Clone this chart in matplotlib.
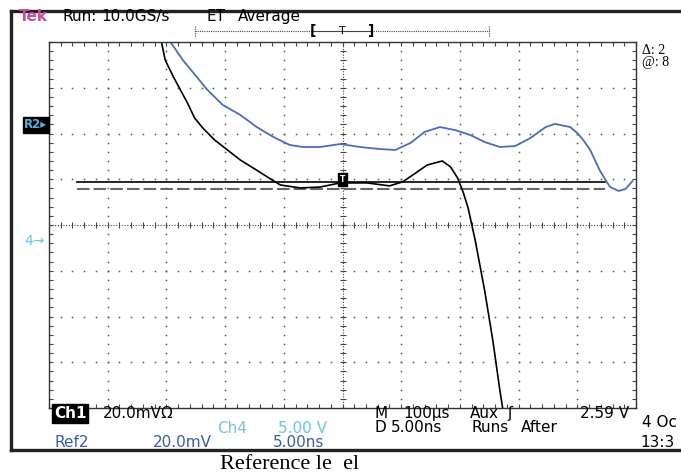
import matplotlib
matplotlib.use("Agg")
import matplotlib.pyplot as plt
from matplotlib.lines import Line2D
import numpy as np

# screen: 10 divisions x 5 ns, 8 divisions x 20 mV
ns_per_div = 5.0
mv_per_div = 20.0

# Ch1 trace (black)
ch1_t = [9.5, 9.9, 10.6, 11.2, 11.8, 12.4, 13.1, 14.1, 15.2, 16.3, 17.4, 18.6, 19.7,
         21.4, 23.1, 24.8, 27.1, 29.0, 30.1, 31.0, 32.2, 33.5, 34.2, 34.8, 35.3, 35.7,
         36.3, 37.1, 37.8, 38.4, 38.8]
ch1_mv = [81.8, 72.1, 64.7, 59.0, 53.3, 46.8, 42.4, 37.2, 32.8, 28.4, 24.9, 21.0, 17.5,
          16.2, 16.6, 18.4, 18.4, 17.1, 18.8, 21.9, 26.2, 28.0, 25.4, 20.6, 14.0, 7.4,
          -6.6, -28.4, -50.3, -72.1, -85.2]

# Ref2 trace (blue)
ref2_t = [10.1, 11.4, 12.3, 13.5, 14.8, 16.3, 17.7, 19.1, 20.5, 21.6, 23.1, 24.8, 26.5,
          28.2, 29.5, 30.8, 32.0, 33.3, 34.6, 35.9, 37.1, 38.4, 39.7, 41.0, 42.3, 43.1,
          44.4, 45.0, 45.5, 46.1, 46.5, 46.9, 47.4, 47.8, 48.5, 49.1, 49.7]
ref2_mv = [81.8, 72.1, 66.5, 59.0, 52.5, 48.1, 42.8, 38.5, 35.0, 34.1, 34.1, 35.4, 34.1,
           33.2, 32.8, 35.9, 40.7, 42.8, 41.5, 39.3, 36.3, 34.1, 34.5, 38.0, 42.8, 44.2,
           42.8, 40.2, 37.2, 32.8, 28.4, 24.0, 19.7, 16.6, 14.9, 15.7, 19.2]

# cursors and trigger
cursor_t = [2.4, 47.4]
cursor_a_mv = 18.8
cursor_b_mv = 15.7
trig_t, trig_mv = 25.0, 20.0

W, H = 681, 475


def fx(px):
    return px / W


def fy(py):
    return 1 - py / H


fig = plt.figure(figsize=(W / 100, H / 100), dpi=100)
fig.patch.set_facecolor("white")

ax = fig.add_axes([fx(49), fy(408), (636 - 49) / W, (408 - 42) / H])
ax.set_xlim(0, 10 * ns_per_div)
ax.set_ylim(-4 * mv_per_div, 4 * mv_per_div)
for s in ax.spines.values():
    s.set_color("#333333")
    s.set_linewidth(1.0)
ax.set_xticks(np.arange(0, 50.1, ns_per_div))
ax.set_yticks(np.arange(-80, 80.1, mv_per_div))
ax.set_xticks(np.arange(0, 50.1, ns_per_div / 5), minor=True)
ax.set_yticks(np.arange(-80, 80.1, mv_per_div / 5), minor=True)
ax.tick_params(which="both", direction="in", length=3, width=0.8, color="#444444",
               top=True, right=True, labelbottom=False, labelleft=False)

# graticule dots
gc = "#555555"
minor_t = np.arange(0, 50.1, 1.0)
minor_v = np.arange(-80, 80.1, 4.0)
for k in range(1, 10):
    if k == 5:
        continue
    t = k * ns_per_div
    ax.plot([t] * len(minor_v), minor_v, ls="none", marker="s", ms=1.1, color=gc, mec="none")
for k in range(-3, 4):
    if k == 0:
        continue
    v = k * mv_per_div
    ax.plot(minor_t, [v] * len(minor_t), ls="none", marker="s", ms=1.1, color=gc, mec="none")

# centre crosshair
ax.axhline(0, color="#444444", lw=0.8, ls=(0, (1, 1.5)))
ax.axvline(25, color="#444444", lw=0.8, ls=(0, (1, 1.5)))
ax.plot(minor_t, [0] * len(minor_t), ls="none", marker="|", ms=5, mew=0.8, color="#444444")
ax.plot([25] * len(minor_v), minor_v, ls="none", marker="_", ms=5, mew=0.8, color="#444444")

# cursors
ax.plot(cursor_t, [cursor_a_mv] * 2, color="black", lw=1.2)
ax.plot(cursor_t, [cursor_b_mv] * 2, color="#666666", lw=1.5, dashes=[6, 2])

# traces
ax.plot(ref2_t, ref2_mv, color="#4c6bbf", lw=1.3)
ax.plot(ch1_t, ch1_mv, color="black", lw=1.2)

# trigger marker
ax.text(trig_t, trig_mv, "T", color="white", fontsize=5.5, fontweight="bold",
        ha="center", va="center",
        bbox=dict(boxstyle="square,pad=0.25", fc="black", ec="black"))

# outer screen frame
frame_kw = dict(color="#222222", lw=2.4, transform=fig.transFigure)
fig.add_artist(Line2D([fx(11), fx(11)], [fy(11), fy(450)], **frame_kw))
fig.add_artist(Line2D([fx(11), fx(681)], [fy(11), fy(11)], **frame_kw))
fig.add_artist(Line2D([fx(11), fx(681)], [fy(450), fy(450)], **frame_kw))

# record window bar
bar_kw = dict(color="#444444", lw=0.8, transform=fig.transFigure)
fig.add_artist(Line2D([fx(195), fx(313)], [fy(31), fy(31)], ls=(0, (1, 1)), **bar_kw))
fig.add_artist(Line2D([fx(313), fx(371)], [fy(31), fy(31)], **bar_kw))
fig.add_artist(Line2D([fx(371), fx(489)], [fy(31), fy(31)], ls=(0, (1, 1)), **bar_kw))
fig.add_artist(Line2D([fx(195), fx(195)], [fy(26), fy(37)], ls=(0, (1, 1)), **bar_kw))
fig.add_artist(Line2D([fx(489), fx(489)], [fy(26), fy(37)], ls=(0, (1, 1)), **bar_kw))
fig.text(fx(313), fy(31), "[", fontsize=10, fontweight="bold", ha="center", va="center")
fig.text(fx(342), fy(31), "T", fontsize=8, ha="center", va="center")
fig.text(fx(371), fy(31), "]", fontsize=10, fontweight="bold", ha="center", va="center")

fs = 11
sans = "DejaVu Sans"
cyan = "#6cc8e0"
blue = "#3c5aae"


def label(px, py, s, color="black", size=fs, family=sans, **kw):
    fig.text(fx(px), fy(py), s, color=color, fontsize=size, family=family,
             va="baseline", ha="left", **kw)


# header
label(19, 21, "Tek", color="#c2509e", fontweight="bold")
label(63, 21, "Run:")
label(101, 21, "10.0GS/s")
label(207, 21, "ET")
label(238, 21, "Average")

# right readouts (cut by the edge)
label(642, 54, "\u0394: 2", size=10, family="Liberation Serif")
label(642, 66, "@: 8", size=10, family="Liberation Serif")

# left markers
fig.text(fx(24), fy(125), "R2\u25b8", color="#58b4d8", fontsize=8.5, fontweight="bold",
         family=sans, ha="left", va="center",
         bbox=dict(boxstyle="square,pad=0.12", fc="black", ec="black"))
fig.text(fx(24), fy(241), "4\u2192", color=cyan, fontsize=10, family=sans,
         ha="left", va="center")

# bottom readouts
fig.text(fx(54), fy(418), "Ch1", color="white", fontsize=fs, family=sans, fontweight="bold",
         ha="left", va="baseline",
         bbox=dict(boxstyle="square,pad=0.1", fc="black", ec="black"))
label(103, 418, "20.0mV\u03a9")
label(217, 433, "Ch4", color=cyan)
label(278, 433, "5.00 V", color=cyan)
label(55, 447, "Ref2", color=blue)
label(153, 447, "20.0mV", color=blue)
label(273, 447, "5.00ns", color=blue)
label(375, 418, "M")
label(403, 418, "100\u00b5s")
label(470, 418, "Aux")
label(507, 418, "\u0283")
label(580, 418, "2.59 V")
label(375, 432, "D")
label(391, 432, "5.00ns")
label(472, 432, "Runs")
label(521, 432, "After")
label(642, 427, "4 Oc")
label(640, 447, "13:3")

# caption under the screen
label(220, 469, "Reference le  el", size=16, family="Liberation Serif")

fig.savefig("out.png", dpi=100)
